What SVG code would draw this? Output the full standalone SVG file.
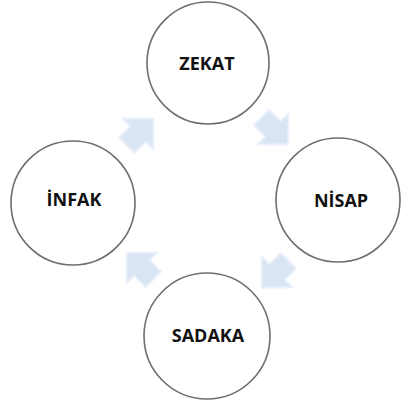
<svg xmlns="http://www.w3.org/2000/svg" width="401" height="407" viewBox="0 0 401 407">
<style>
.node circle{fill:#ffffff;stroke:#6e6e6e;stroke-width:1.6}
.node text{font-family:"Open Sans","Liberation Sans",sans-serif;font-weight:700;font-size:18px;fill:#111111;text-anchor:middle}
.arr{fill:#dae5f4;stroke:#ebf1fa;stroke-width:2;stroke-linejoin:round}
</style>
<defs>
<path id="ar" d="M-19,-11 L-3,-11 L-3,-22 L19,0 L-3,22 L-3,11 L-19,11 Z"/>
</defs>
<rect width="401" height="407" fill="#ffffff"/>
<g id="connectors">
<use href="#ar" class="arr" transform="translate(140,132) rotate(-45)"/>
<use href="#ar" class="arr" transform="translate(275,131) rotate(45)"/>
<use href="#ar" class="arr" transform="translate(275,274) rotate(135)"/>
<use href="#ar" class="arr" transform="translate(140,266) rotate(-135)"/>
</g>
<g id="zekat" class="node"><circle cx="208" cy="63" r="61"/><text x="207" y="70">ZEKAT</text></g>
<g id="nisap" class="node"><circle cx="338" cy="200" r="62"/><text x="341" y="207">NİSAP</text></g>
<g id="sadaka" class="node"><circle cx="207" cy="336" r="63"/><text x="208" y="342">SADAKA</text></g>
<g id="infak" class="node"><circle cx="73" cy="203" r="62"/><text x="74" y="206">İNFAK</text></g>
</svg>
